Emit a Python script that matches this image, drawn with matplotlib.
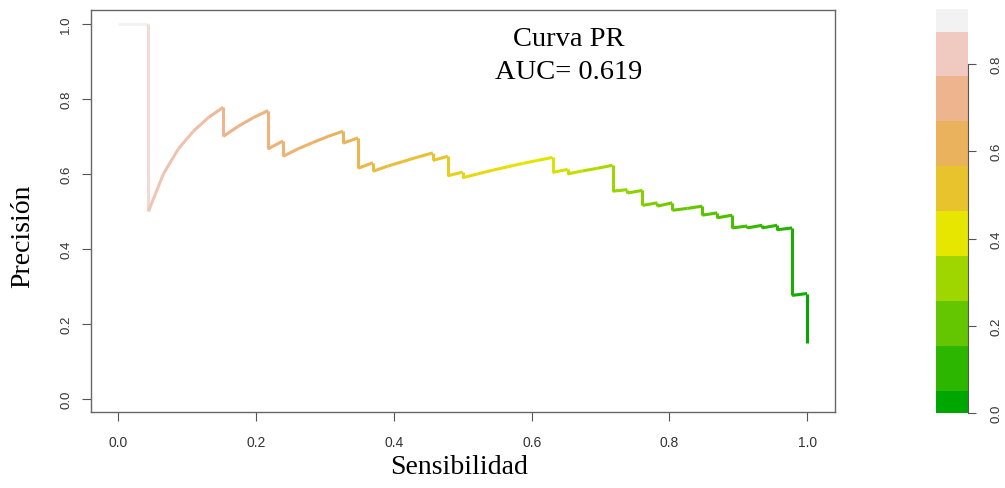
import numpy as np
import matplotlib
matplotlib.use("Agg")
import matplotlib.pyplot as plt
from matplotlib.collections import LineCollection
from matplotlib.colors import LinearSegmentedColormap, ListedColormap

# PR curve vertices (recall, precision) and the score threshold at each vertex
recall = [0.0, 0.0435, 0.0435, 0.0652, 0.087, 0.1087, 0.1304, 0.1522, 0.1522,
          0.1739, 0.1957, 0.2174, 0.2174, 0.2391, 0.2391, 0.2609, 0.2826, 0.3043,
          0.3261, 0.3261, 0.3478, 0.3478, 0.3696, 0.3696, 0.3913, 0.413, 0.4348,
          0.4565, 0.4565, 0.4783, 0.4783, 0.5, 0.5, 0.5217, 0.5435, 0.5652, 0.587,
          0.6087, 0.6304, 0.6304, 0.6522, 0.6522, 0.6739, 0.6957, 0.7174, 0.7174,
          0.7391, 0.7391, 0.7609, 0.7609, 0.7826, 0.7826, 0.8043, 0.8043, 0.8261,
          0.8478, 0.8478, 0.8696, 0.8696, 0.8913, 0.8913, 0.913, 0.913, 0.9348,
          0.9348, 0.9565, 0.9565, 0.9783, 0.9783, 1.0, 1.0]
precision = [1.0, 1.0, 0.5, 0.6, 0.667, 0.714, 0.75, 0.778, 0.7,
             0.727, 0.75, 0.769, 0.667, 0.688, 0.647, 0.667, 0.684, 0.7,
             0.714, 0.682, 0.696, 0.615, 0.63, 0.607, 0.621, 0.633, 0.645,
             0.656, 0.636, 0.647, 0.595, 0.605, 0.59, 0.6, 0.61, 0.619, 0.628,
             0.636, 0.644, 0.604, 0.612, 0.6, 0.608, 0.615, 0.623, 0.554,
             0.558, 0.549, 0.556, 0.516, 0.523, 0.514, 0.523, 0.503, 0.508,
             0.514, 0.49, 0.496, 0.483, 0.49, 0.456, 0.461, 0.456, 0.463,
             0.456, 0.463, 0.451, 0.456, 0.276, 0.281, 0.148]
threshold = [0.926, 0.926, 0.8, 0.8, 0.79, 0.78, 0.76, 0.73, 0.72,
             0.71, 0.7, 0.69, 0.68, 0.67, 0.66, 0.65, 0.64, 0.63,
             0.62, 0.61, 0.6, 0.58, 0.57, 0.56, 0.55, 0.54, 0.53,
             0.52, 0.51, 0.5, 0.48, 0.47, 0.46, 0.45, 0.44, 0.43, 0.42,
             0.41, 0.4, 0.39, 0.38, 0.37, 0.35, 0.33, 0.31, 0.3,
             0.29, 0.28, 0.27, 0.26, 0.25, 0.24, 0.23, 0.22, 0.21,
             0.2, 0.19, 0.18, 0.17, 0.16, 0.15, 0.14, 0.13, 0.12,
             0.11, 0.1, 0.09, 0.08, 0.05, 0.03, 0.0]
auc = 0.619
score_max = 0.926

# terrain.colors(10)
terrain = ["#00A600", "#2DB600", "#63C600", "#A0D600", "#E6E600",
           "#E8C32E", "#EBB25E", "#EDB48E", "#F0C9C0", "#F2F2F2"]
cmap = LinearSegmentedColormap.from_list("terrain10", terrain)

fig = plt.figure(figsize=(10.05, 4.89), dpi=100)
ax = fig.add_axes([0.0905, 0.1554, 0.740, 0.822])

pts = np.column_stack([recall, precision])
segs = np.stack([pts[:-1], pts[1:]], axis=1)
thr = np.asarray(threshold)
seg_val = (thr[:-1] + thr[1:]) / 2
lc = LineCollection(segs, colors=cmap(seg_val / score_max), linewidths=2.2,
                    capstyle="butt", joinstyle="miter")
ax.add_collection(lc)

ax.set_xlim(-0.04, 1.04)
ax.set_ylim(-0.035, 1.037)
ticks = [0.0, 0.2, 0.4, 0.6, 0.8, 1.0]
ax.set_xticks(ticks)
ax.set_yticks(ticks)
ax.set_xticklabels([f"{t:.1f}" for t in ticks],
                   family=["Liberation Sans Narrow", "Liberation Sans"], fontsize=10)
ax.set_yticklabels([f"{t:.1f}" for t in ticks], family="Liberation Sans",
                   fontsize=9.5, rotation=90, va="center")
ax.tick_params(axis="both", direction="out", length=6.5, width=0.8,
               colors="#555555", labelcolor="#333333")
ax.tick_params(axis="x", pad=10)
ax.tick_params(axis="y", pad=7)
for sp in ax.spines.values():
    sp.set_color("#666666")
    sp.set_linewidth(1.0)

ax.set_xlabel("Sensibilidad", family="Liberation Serif", fontsize=20)
ax.set_ylabel("Precisión", family="Liberation Serif", fontsize=20)
ax.xaxis.set_label_coords(0.495, -0.105)
ax.yaxis.set_label_coords(-0.075, 0.44)

ax.text(0.654, 0.96, "Curva PR", ha="center", va="center",
        family="Liberation Serif", fontsize=20.5)
ax.text(0.654, 0.872, f"AUC= {auc}", ha="center", va="center",
        family="Liberation Serif", fontsize=20.5)

# colour legend for the score thresholds
cax = fig.add_axes([0.9313, 0.1534, 0.0318, 0.826])
levels = np.linspace(0, score_max, len(terrain))
half = (levels[1] - levels[0]) / 2
edges = np.concatenate([levels - half, [levels[-1] + half]])
cax.pcolormesh([0, 1], edges, levels.reshape(-1, 1),
               cmap=ListedColormap(terrain), vmin=-half, vmax=score_max + half)
cax.set_xlim(0, 1)
cax.set_ylim(0, score_max)
cax.set_xticks([])
cbt = [0.0, 0.2, 0.4, 0.6, 0.8]
cax.yaxis.tick_right()
cax.set_yticks(cbt)
cax.set_yticklabels([f"{t:.1f}" for t in cbt], family="Liberation Sans",
                    fontsize=9.5, rotation=90, va="center")
cax.tick_params(axis="y", direction="out", length=6, width=0.8,
                colors="#555555", labelcolor="#333333", pad=10)
for name, sp in cax.spines.items():
    sp.set_visible(False)
cax.spines["right"].set_visible(True)
cax.spines["right"].set_bounds(0, 0.8)
cax.spines["right"].set_color("#555555")

fig.savefig("out.png", dpi=100)
